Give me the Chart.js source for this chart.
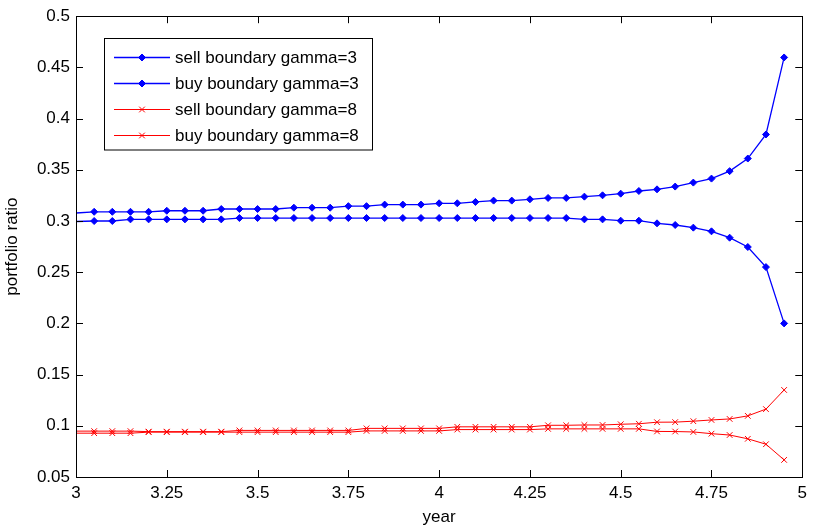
<!DOCTYPE html>
<html>
<head>
<meta charset="utf-8">
<script src="https://cdn.jsdelivr.net/npm/chart.js@4.4.1/dist/chart.umd.min.js"></script>
<style>
body { margin: 0; background: #fff; }
#wrap { width: 813px; height: 529px; }
</style>
</head>
<body>
<div id="wrap"><canvas id="c" width="813" height="529"></canvas></div>
<script>
// values
var years = [3.00, 3.05, 3.10, 3.15, 3.20, 3.25, 3.30, 3.35, 3.40, 3.45,
             3.50, 3.55, 3.60, 3.65, 3.70, 3.75, 3.80, 3.85, 3.90, 3.95,
             4.00, 4.05, 4.10, 4.15, 4.20, 4.25, 4.30, 4.35, 4.40, 4.45,
             4.50, 4.55, 4.60, 4.65, 4.70, 4.75, 4.80, 4.85, 4.90, 4.95];

var sellGamma3 = [0.3078, 0.309, 0.309, 0.309, 0.309, 0.310, 0.310, 0.310, 0.3117, 0.3117,
                  0.3117, 0.3117, 0.313, 0.313, 0.313, 0.3145, 0.3145, 0.316, 0.316, 0.316,
                  0.3173, 0.3173, 0.3186, 0.3199, 0.3199, 0.3212, 0.3225, 0.3225, 0.3238, 0.3251,
                  0.3267, 0.3293, 0.3309, 0.3336, 0.3375, 0.3414, 0.3487, 0.361, 0.3845, 0.4597];

var buyGamma3 = [0.2995, 0.300, 0.300, 0.3016, 0.3016, 0.3016, 0.3016, 0.3016, 0.3016, 0.3029,
                 0.3029, 0.3029, 0.3029, 0.3029, 0.3029, 0.3029, 0.3029, 0.3029, 0.3029, 0.3029,
                 0.3029, 0.3029, 0.3029, 0.3029, 0.3029, 0.3029, 0.3029, 0.3029, 0.3016, 0.3016,
                 0.3003, 0.3003, 0.2977, 0.2961, 0.2935, 0.2899, 0.2837, 0.2746, 0.2550, 0.2000];

var sellGamma8 = [0.0948, 0.0948, 0.0948, 0.0948, 0.0943, 0.0943, 0.0943, 0.0943, 0.0943, 0.0955,
                  0.0955, 0.0955, 0.0955, 0.0955, 0.0955, 0.0955, 0.0975, 0.0975, 0.0975, 0.0975,
                  0.0975, 0.0990, 0.0990, 0.0990, 0.0990, 0.0990, 0.1005, 0.1005, 0.1008, 0.1008,
                  0.1015, 0.1020, 0.1035, 0.1036, 0.1045, 0.1057, 0.1067, 0.1097, 0.1163, 0.1350];

var buyGamma8 = [0.0928, 0.0928, 0.0928, 0.0928, 0.0938, 0.0938, 0.0938, 0.0938, 0.0938, 0.0938,
                 0.0938, 0.0938, 0.0938, 0.0938, 0.0938, 0.0938, 0.0950, 0.0950, 0.0950, 0.0950,
                 0.0950, 0.0963, 0.0963, 0.0963, 0.0963, 0.0963, 0.0970, 0.0970, 0.0970, 0.0970,
                 0.0970, 0.0970, 0.0945, 0.0944, 0.0940, 0.0923, 0.0910, 0.0873, 0.0820, 0.0667];

var xTicks = [3, 3.25, 3.5, 3.75, 4, 4.25, 4.5, 4.75, 5];
var yTicks = [0.05, 0.1, 0.15, 0.2, 0.25, 0.3, 0.35, 0.4, 0.45, 0.5];

var FONT = "'Liberation Sans', Arial, Helvetica, sans-serif";
var BLUE = '#0000ff';
var RED = '#ff0000';

function pts(ys) {
    return years.map(function (x, i) { return { x: x, y: ys[i] }; });
}

// first point sits on the axis, its marker is not shown
function hideFirst(r) {
    return function (ctx) { return ctx.dataIndex === 0 ? 0 : r; };
}

function series(label, ys, color, style, r, w) {
    return {
        label: label,
        data: pts(ys),
        borderColor: color,
        backgroundColor: color,
        borderWidth: w,
        pointStyle: style,
        pointRadius: hideFirst(r),
        pointBorderWidth: 1,
        pointBorderColor: color,
        pointBackgroundColor: color,
        fill: false,
        tension: 0
    };
}

// matlab-like frame with inward ticks on all four sides
var framePlugin = {
    id: 'frame',
    afterDraw: function (chart) {
        var ctx = chart.ctx, a = chart.chartArea;
        var xs = chart.scales.x, ys = chart.scales.y;
        var L = 7;
        ctx.save();
        ctx.strokeStyle = '#000';
        ctx.lineWidth = 1;
        ctx.beginPath();
        xTicks.forEach(function (v) {
            var px = Math.round(xs.getPixelForValue(v)) + 0.5;
            ctx.moveTo(px, a.bottom); ctx.lineTo(px, a.bottom - L);
            ctx.moveTo(px, a.top); ctx.lineTo(px, a.top + L);
        });
        yTicks.forEach(function (v) {
            var py = Math.round(ys.getPixelForValue(v)) + 0.5;
            ctx.moveTo(a.left, py); ctx.lineTo(a.left + L, py);
            ctx.moveTo(a.right, py); ctx.lineTo(a.right - L, py);
        });
        ctx.stroke();
        ctx.strokeRect(Math.round(a.left) + 0.5, Math.round(a.top) + 0.5,
                       Math.round(a.right - a.left), Math.round(a.bottom - a.top));
        ctx.restore();
    }
};

// boxed legend in the upper left of the plot
var legendPlugin = {
    id: 'boxLegend',
    afterDraw: function (chart) {
        var ctx = chart.ctx;
        var bx = 104.5, by = 38.5, bw = 268, bh = 111.5;
        var rows = [57, 83, 109, 135];
        ctx.save();
        ctx.fillStyle = '#fff';
        ctx.fillRect(bx, by, bw, bh);
        ctx.strokeStyle = '#000';
        ctx.lineWidth = 1;
        ctx.strokeRect(bx, by, bw, bh);
        ctx.font = '17px ' + FONT;
        ctx.textBaseline = 'middle';
        chart.data.datasets.forEach(function (ds, i) {
            var y = rows[i];
            ctx.lineWidth = ds.borderWidth;
            ctx.strokeStyle = ds.borderColor;
            ctx.beginPath();
            ctx.moveTo(114, y + 0.5);
            ctx.lineTo(170, y + 0.5);
            ctx.stroke();
            ctx.lineWidth = 1;
            ctx.fillStyle = ds.borderColor;
            Chart.helpers.drawPoint(ctx, {
                pointStyle: ds.pointStyle,
                radius: ds.pointStyle === 'rectRot' ? 3.5 : 4,
                rotation: 0,
                borderWidth: 1
            }, 142, y + 0.5);
            ctx.fillStyle = '#000';
            ctx.fillText(ds.label, 175, y + 1);
        });
        ctx.restore();
    }
};

new Chart(document.getElementById('c'), {
    type: 'line',
    data: {
        datasets: [
            series('sell boundary gamma=3', sellGamma3, BLUE, 'rectRot', 3.5, 1.3),
            series('buy boundary gamma=3', buyGamma3, BLUE, 'rectRot', 3.5, 1.3),
            series('sell boundary gamma=8', sellGamma8, RED, 'crossRot', 4, 1),
            series('buy boundary gamma=8', buyGamma8, RED, 'crossRot', 4, 1)
        ]
    },
    options: {
        responsive: false,
        animation: false,
        layout: { padding: { top: 16, right: 6, bottom: 0, left: 0 } },
        plugins: {
            legend: { display: false },
            tooltip: { enabled: false }
        },
        scales: {
            x: {
                type: 'linear',
                min: 3,
                max: 5,
                afterBuildTicks: function (s) { s.ticks = xTicks.map(function (v) { return { value: v }; }); },
                afterFit: function (s) { s.height = 52; },
                ticks: {
                    autoSkip: false,
                    maxRotation: 0,
                    padding: 6,
                    color: '#000',
                    font: { family: FONT, size: 17 },
                    callback: function (v) { return String(v); }
                },
                grid: { display: false, drawTicks: false },
                border: { display: false },
                title: {
                    display: true,
                    text: 'year',
                    color: '#000',
                    font: { family: FONT, size: 17 },
                    padding: { top: 0, bottom: 1 }
                }
            },
            y: {
                min: 0.05,
                max: 0.5,
                afterBuildTicks: function (s) { s.ticks = yTicks.map(function (v) { return { value: v }; }); },
                afterFit: function (s) { s.width = 76; },
                ticks: {
                    autoSkip: false,
                    padding: 6,
                    color: '#000',
                    font: { family: FONT, size: 17 },
                    callback: function (v) { return String(v); }
                },
                grid: { display: false, drawTicks: false },
                border: { display: false },
                title: {
                    display: true,
                    text: 'portfolio ratio',
                    color: '#000',
                    font: { family: FONT, size: 17 },
                    padding: { top: 2, bottom: 0 }
                }
            }
        }
    },
    plugins: [framePlugin, legendPlugin]
});
</script>
</body>
</html>
